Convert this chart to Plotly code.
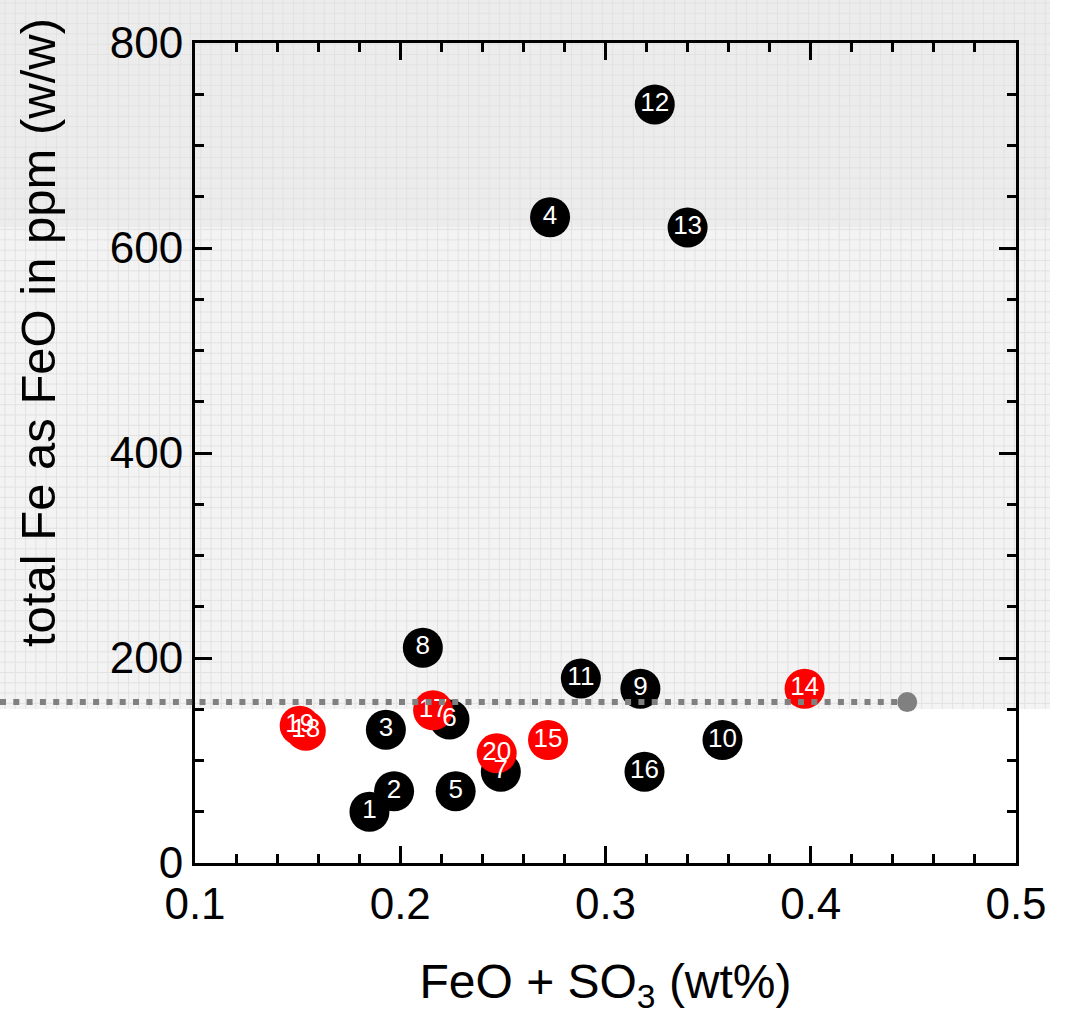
import plotly.graph_objects as go

# ---------------- data ----------------
labels = [str(i) for i in range(1, 21)]
x_vals = [0.185, 0.197, 0.193, 0.273, 0.227, 0.224, 0.249, 0.211, 0.317, 0.357,
          0.288, 0.324, 0.340, 0.397, 0.272, 0.319, 0.216, 0.154, 0.151, 0.247]
y_vals = [50, 70, 130, 630, 70, 140, 89, 210, 170, 120,
          180, 740, 620, 170, 120, 89, 149, 129, 134, 107]
is_red = [False] * 13 + [True, True, False, True, True, True, True]

threshold_x = [0.447]
threshold_y = [157]

x_ticks = [0.1, 0.2, 0.3, 0.4, 0.5]
x_ticklabels = ["0.1", "0.2", "0.3", "0.4", "0.5"]
y_ticks = [0, 200, 400, 600, 800]
y_ticklabels = ["0", "200", "400", "600", "800"]

# ---------------- layout geometry ----------------
W, H = 1068, 1018
XDOM = [195 / W, 1016 / W]
YDOM = [(H - 863) / H, (H - 43) / H]
XR = [0.1, 0.5]
YR = [0, 800]

def px_x(p):
    return p / W

def px_y(p):
    return 1 - p / H

# order: black first, red on top
order = [i for i in range(20) if not is_red[i]] + [i for i in range(20) if is_red[i]]
mx = [x_vals[i] for i in order]
my = [y_vals[i] for i in order]
mc = ["#ff0000" if is_red[i] else "#000000" for i in order]
mt = [labels[i] for i in order]

fig = go.Figure()

fig.add_trace(go.Scatter(
    x=mx, y=my, mode="markers",
    marker=dict(size=40, color=mc, line=dict(width=0)),
    hoverinfo="skip", showlegend=False, cliponaxis=False))

fig.add_trace(go.Scatter(
    x=threshold_x, y=threshold_y, mode="markers",
    marker=dict(size=20, color="#808080", line=dict(width=0)),
    hoverinfo="skip", showlegend=False, cliponaxis=False))

fig.add_trace(go.Scatter(
    x=mx, y=my, mode="text", text=mt, textposition="middle center",
    textfont=dict(family="Liberation Sans, Arial, sans-serif", size=26, color="white"),
    hoverinfo="skip", showlegend=False, cliponaxis=False))

# ---------------- background (grey gridded paper) ----------------
shapes = []
gx1 = 1050
gy1 = 709
shapes.append(dict(type="rect", xref="paper", yref="paper",
                   x0=0, x1=px_x(gx1), y0=px_y(gy1), y1=1,
                   fillcolor="#f3f3f3", line=dict(width=0), layer="below"))
shapes.append(dict(type="rect", xref="paper", yref="paper",
                   x0=0, x1=px_x(gx1), y0=px_y(227), y1=1,
                   fillcolor="#ececec", line=dict(width=0), layer="below"))
step = 10.3
path = ""
p = 5.0
while p < gx1:
    path += f"M{px_x(p):.5f},{px_y(0):.5f}L{px_x(p):.5f},{px_y(gy1):.5f}"
    p += step
p = 3.0
while p < gy1:
    path += f"M{px_x(0):.5f},{px_y(p):.5f}L{px_x(gx1):.5f},{px_y(p):.5f}"
    p += step
shapes.append(dict(type="path", xref="paper", yref="paper", path=path,
                   line=dict(color="#e2e2e2", width=1), layer="below"))

# dotted threshold line, from left page edge to threshold point
x_end_paper = XDOM[0] + (threshold_x[0] - XR[0]) / (XR[1] - XR[0]) * (XDOM[1] - XDOM[0])
shapes.append(dict(type="line", xref="paper", yref="y",
                   x0=0, x1=x_end_paper, y0=threshold_y[0], y1=threshold_y[0],
                   line=dict(color="#808080", width=6, dash="6px,7.3px"), layer="above"))

font_main = "Liberation Sans, Arial, Helvetica, sans-serif"

fig.update_layout(
    width=W, height=H,
    margin=dict(l=0, r=0, t=0, b=0, autoexpand=False),
    paper_bgcolor="white",
    plot_bgcolor="rgba(0,0,0,0)",
    shapes=shapes,
    font=dict(family=font_main, color="black"),
    xaxis=dict(
        domain=XDOM, range=XR, showgrid=False, zeroline=False, automargin=False,
        showline=True, linecolor="black", linewidth=3, mirror="ticks",
        ticks="inside", ticklen=17, tickwidth=3, tickcolor="black",
        tickvals=x_ticks, ticktext=x_ticklabels,
        tickfont=dict(size=44, family=font_main),
        minor=dict(ticks="inside", ticklen=9, tickwidth=3, tickcolor="black", dtick=0.02, showgrid=False),
        title=dict(text="FeO + SO<sub>3</sub> (wt%)", font=dict(size=48, family=font_main), standoff=38),
    ),
    yaxis=dict(
        domain=YDOM, range=YR, showgrid=False, zeroline=False, automargin=False,
        showline=True, linecolor="black", linewidth=3, mirror="ticks",
        ticks="inside", ticklen=17, tickwidth=3, tickcolor="black",
        tickvals=y_ticks, ticktext=y_ticklabels,
        tickfont=dict(size=44, family=font_main),
        minor=dict(ticks="inside", ticklen=9, tickwidth=3, tickcolor="black", dtick=50, showgrid=False),
    ),
    annotations=[dict(
        text="total Fe as FeO in ppm (w/w)", textangle=-90,
        xref="paper", yref="paper", x=px_x(38), y=px_y(333),
        xanchor="center", yanchor="middle", showarrow=False,
        font=dict(size=49, family=font_main, color="black"))],
)

fig.write_html("out.html")
